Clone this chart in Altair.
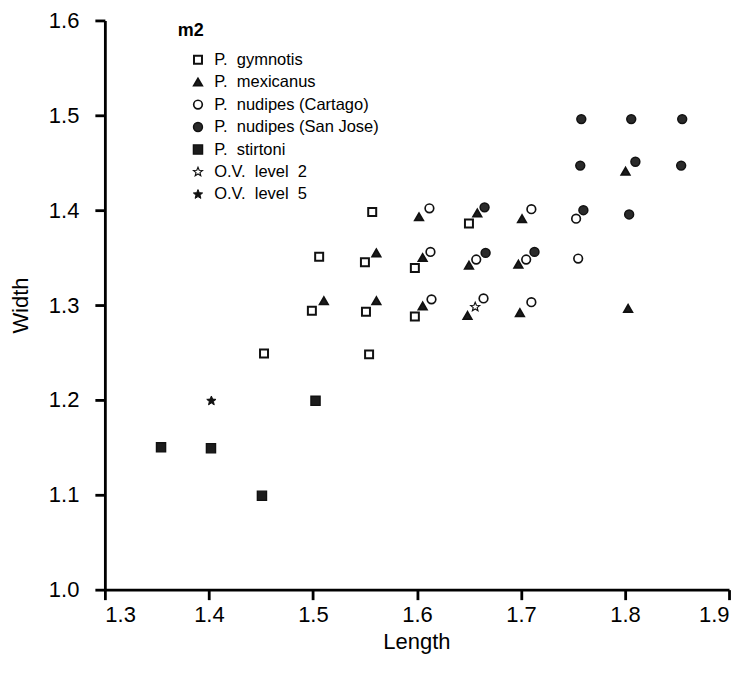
import altair as alt
import pandas as pd

FONT = "Liberation Sans"
STAR = "M0,-1L0.26,-0.36L0.951,-0.309L0.42,0.137L0.588,0.809L0,0.44L-0.588,0.809L-0.42,0.137L-0.951,-0.309L-0.26,-0.36Z"

species = [
    "P.\u00a0 gymnotis",
    "P.\u00a0 mexicanus",
    "P.\u00a0 nudipes (Cartago)",
    "P.\u00a0 nudipes (San Jose)",
    "P.\u00a0 stirtoni",
    "O.V.\u00a0 level\u00a0 2",
    "O.V.\u00a0 level\u00a0 5",
]

gymnotis_x = [1.453, 1.499, 1.506, 1.550, 1.551, 1.554, 1.557, 1.598, 1.598, 1.650]
gymnotis_y = [1.249, 1.294, 1.351, 1.345, 1.293, 1.248, 1.398, 1.339, 1.288, 1.386]

mexicanus_x = [1.5105, 1.561, 1.561, 1.602, 1.6055, 1.6055, 1.6486, 1.650, 1.658, 1.6975, 1.699, 1.701, 1.8005, 1.803]
mexicanus_y = [1.3045, 1.3045, 1.355, 1.393, 1.350, 1.299, 1.289, 1.342, 1.397, 1.343, 1.292, 1.391, 1.441, 1.2965]

cartago_x = [1.612, 1.613, 1.614, 1.657, 1.664, 1.705, 1.710, 1.710, 1.753, 1.755]
cartago_y = [1.402, 1.356, 1.306, 1.348, 1.307, 1.348, 1.401, 1.303, 1.391, 1.349]

sanjose_x = [1.665, 1.666, 1.713, 1.757, 1.758, 1.760, 1.804, 1.806, 1.810, 1.854, 1.855]
sanjose_y = [1.403, 1.355, 1.356, 1.447, 1.496, 1.400, 1.3955, 1.496, 1.451, 1.447, 1.496]

stirtoni_x = [1.354, 1.402, 1.451, 1.5025]
stirtoni_y = [1.150, 1.149, 1.099, 1.199]

ov2_x = [1.656]
ov2_y = [1.298]

ov5_x = [1.4024]
ov5_y = [1.199]

x_ticks = [1.3, 1.4, 1.5, 1.6, 1.7, 1.8, 1.9]
y_ticks = [1.0, 1.1, 1.2, 1.3, 1.4, 1.5, 1.6]

series = [
    (species[0], gymnotis_x, gymnotis_y),
    (species[1], mexicanus_x, mexicanus_y),
    (species[2], cartago_x, cartago_y),
    (species[3], sanjose_x, sanjose_y),
    (species[4], stirtoni_x, stirtoni_y),
    (species[5], ov2_x, ov2_y),
    (species[6], ov5_x, ov5_y),
]
rows = []
for name, xs, ys in series:
    for xv, yv in zip(xs, ys):
        rows.append({"species": name, "Length": xv, "Width": yv})
df = pd.DataFrame(rows)

shapes = ["square", "triangle-up", "circle", "circle", "square", STAR, STAR]
fills = ["white", "#1c1c1c", "white", "#2a2a2a", "#1c1c1c", "white", "#111111"]
strokes = ["#111111"] * 7
widths = [2.0, 1.0, 1.4, 1.0, 1.0, 1.3, 1.0]
sizes = [64, 95, 66, 90, 100, 140, 140]

legend = alt.Legend(
    title="m2", orient="none", legendX=73, legendY=2,
    titleFont=FONT, titleFontSize=18, titleFontWeight="bold", titleColor="black",
    titlePadding=11,
    labelFont=FONT, labelFontSize=16.5, labelColor="black", labelLimit=400,
    rowPadding=5.5, symbolOffset=12, labelOffset=8,
)

chart = alt.Chart(df).mark_point(filled=True, opacity=1).encode(
    x=alt.X("Length:Q",
            scale=alt.Scale(domain=[1.3, 1.9], nice=False, zero=False),
            axis=alt.Axis(values=x_ticks, format=".1f", title="Length",
                          titleX=312, titleY=52, titleBaseline="middle")),
    y=alt.Y("Width:Q",
            scale=alt.Scale(domain=[1.0, 1.6], nice=False, zero=False),
            axis=alt.Axis(values=y_ticks, format=".1f", title="Width",
                          titleX=-84, titleY=285, titleBaseline="middle", labelPadding=16)),
    shape=alt.Shape("species:N", scale=alt.Scale(domain=species, range=shapes), legend=legend),
    fill=alt.Fill("species:N", scale=alt.Scale(domain=species, range=fills), legend=legend),
    stroke=alt.Stroke("species:N", scale=alt.Scale(domain=species, range=strokes), legend=legend),
    strokeWidth=alt.StrokeWidth("species:N", scale=alt.Scale(domain=species, range=widths), legend=legend),
    size=alt.Size("species:N", scale=alt.Scale(domain=species, range=sizes), legend=legend),
).properties(
    width=625, height=570,
    autosize=alt.AutoSizeParams(type="none"),
    padding={"left": 97, "top": 12, "right": 10, "bottom": 80},
).configure_view(
    stroke=None
).configure_axis(
    grid=False, domainColor="black", domainWidth=2.8, tickColor="black",
    tickWidth=2.8, tickSize=10, labelFont=FONT, labelFontSize=22, labelColor="black",
    titleFont=FONT, titleFontSize=22, titleFontWeight="normal", titleColor="black",
).configure_axisX(
    labelPadding=5
)

chart.save("out.html", embed_options={"renderer": "svg", "actions": False})
